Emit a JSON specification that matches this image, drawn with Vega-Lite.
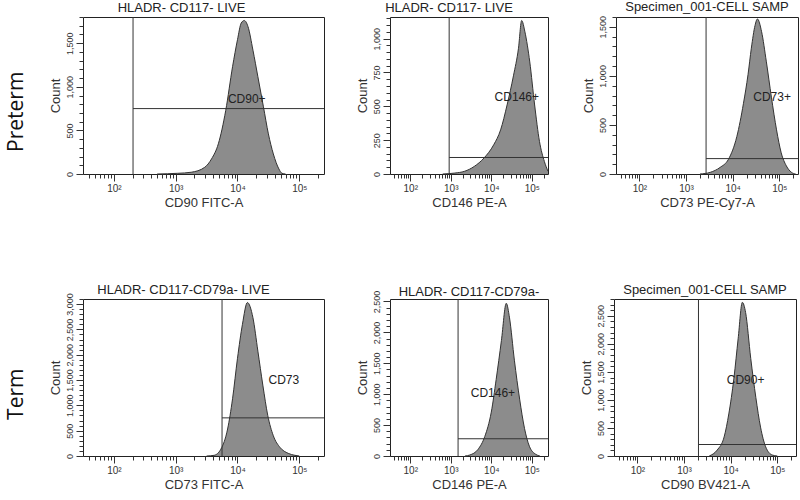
{
  "$schema": "https://vega.github.io/schema/vega-lite/v6.json",
  "padding": {"left": 5, "top": 0, "right": 0, "bottom": 0},
  "background": "white",
  "config": {
    "view": {"stroke": "#222", "strokeWidth": 1},
    "font": "Liberation Sans",
    "axis": {"domain": false, "grid": false, "labelFont": "Liberation Sans", "labelFontSize": 9, "labelColor": "#333", "tickColor": "#333", "titleFont": "Liberation Sans", "titleFontSize": 13, "titleFontWeight": "normal", "titleColor": "#333", "labelPadding": 2, "titlePadding": 3},
    "axisBottom": {"labelFontSize": 10},
    "title": {"font": "Liberation Sans", "fontSize": 13, "fontWeight": "normal", "color": "#222", "offset": 2}
  },
  "datasets": {
    "p1": [{"x":501,"count":0},{"x":1072,"count":8},{"x":1778,"count":20},{"x":2951,"count":77},{"x":3802,"count":173},{"x":4898,"count":346},{"x":6457,"count":730},{"x":8318,"count":1230},{"x":10000,"count":1540},{"x":11482,"count":1730},{"x":12882,"count":1760},{"x":14791,"count":1690},{"x":17783,"count":1420},{"x":21380,"count":1115},{"x":26303,"count":770},{"x":31623,"count":460},{"x":38019,"count":230},{"x":46774,"count":58},{"x":52481,"count":8},{"x":60000,"count":0}],
    "p2": [{"x":631,"count":0},{"x":1259,"count":7},{"x":2188,"count":20},{"x":3802,"count":56},{"x":6607,"count":118},{"x":11482,"count":216},{"x":16982,"count":326},{"x":24547,"count":510},{"x":35481,"count":730},{"x":46774,"count":926},{"x":56234,"count":1134},{"x":67608,"count":1050},{"x":89125,"count":828},{"x":117490,"count":510},{"x":154882,"count":240},{"x":204174,"count":93},{"x":251189,"count":20}],
    "p3": [{"x":1995,"count":0},{"x":3311,"count":17},{"x":5370,"count":67},{"x":8128,"count":150},{"x":12303,"count":383},{"x":16982,"count":716},{"x":21380,"count":1016},{"x":25119,"count":1282},{"x":30200,"count":1515},{"x":33884,"count":1580},{"x":41687,"count":1450},{"x":52481,"count":1150},{"x":67608,"count":783},{"x":87096,"count":450},{"x":109648,"count":216},{"x":141254,"count":83},{"x":181970,"count":17},{"x":223872,"count":0}],
    "p4": [{"x":3162,"count":0},{"x":4169,"count":13},{"x":5370,"count":133},{"x":6918,"count":533},{"x":8318,"count":1130},{"x":10000,"count":1930},{"x":12023,"count":2600},{"x":14454,"count":3030},{"x":17783,"count":2730},{"x":21380,"count":2070},{"x":25704,"count":1400},{"x":30903,"count":800},{"x":38019,"count":400},{"x":48978,"count":167},{"x":66069,"count":53},{"x":85114,"count":13},{"x":100000,"count":0}],
    "p5": [{"x":2239,"count":0},{"x":2951,"count":16},{"x":4677,"count":105},{"x":6918,"count":316},{"x":10000,"count":710},{"x":13183,"count":1236},{"x":17783,"count":1867},{"x":23442,"count":2470},{"x":28184,"count":2235},{"x":37154,"count":1550},{"x":50119,"count":920},{"x":66069,"count":447},{"x":87096,"count":158},{"x":125893,"count":26},{"x":158489,"count":0}],
    "p6": [{"x":3467,"count":0},{"x":5129,"count":105},{"x":7244,"count":340},{"x":9120,"count":750},{"x":11749,"count":1390},{"x":14454,"count":2090},{"x":17783,"count":2740},{"x":20893,"count":2560},{"x":26915,"count":1740},{"x":34674,"count":1040},{"x":43652,"count":515},{"x":56234,"count":164},{"x":77625,"count":18},{"x":100000,"count":0}],
    "g1": [{"gx":204,"gy":750,"xmax":251189,"lx":14125,"ly":865,"label":"CD90+"}],
    "g2": [{"gx":912,"gy":122,"xmax":251189,"lx":42658,"ly":568,"label":"CD146+"}],
    "g3": [{"gx":2692,"gy":157,"xmax":251189,"lx":70000,"ly":783,"label":"CD73+"}],
    "g4": [{"gx":5623,"gy":753,"xmax":251189,"lx":56234,"ly":1500,"label":"CD73"}],
    "g5": [{"gx":1514,"gy":279,"xmax":251189,"lx":10965,"ly":1025,"label":"CD146+"}],
    "g6": [{"gx":2042,"gy":205,"xmax":251189,"lx":20893,"ly":1363,"label":"CD90+"}]
  },
  "spacing": 73,
  "vconcat": [
    {
      "title": {"text": "Preterm", "orient": "left", "anchor": "middle", "font": "Open Sans", "fontSize": 21, "fontWeight": "normal", "color": "#111", "offset": 22, "dx": -7},
      "spacing": 30,
      "hconcat": [
        {
          "width": 241, "height": 157,
          "view": {"stroke": "#222", "strokeWidth": 1},
          "title": {"text": "HLADR- CD117- LIVE", "dx": -22},
          "layer": [
            {"data": {"name": "p1"}, "mark": {"type": "area", "color": "#8c8c8c", "interpolate": "monotone"},
             "encoding": {
               "x": {"field": "x", "type": "quantitative", "scale": {"type": "log", "domain": [31.6, 251189], "nice": false}, "axis": {"orient": "bottom", "values": [100, 1000, 10000, 100000], "title": "CD90 FITC-A", "tickSize": 7, "labelExpr": "datum.value == 100 ? '10²' : datum.value == 1000 ? '10³' : datum.value == 10000 ? '10⁴' : '10⁵'"}},
               "y": {"field": "count", "type": "quantitative", "scale": {"domain": [0, 1800], "nice": false}, "axis": {"orient": "left", "values": [0, 500, 1000, 1500], "format": ",.0f", "title": "Count", "tickSize": 7, "labelAngle": -90}}}},
            {"data": {"name": "p1"}, "mark": {"type": "line", "color": "#333", "strokeWidth": 1, "interpolate": "monotone"},
             "encoding": {
               "x": {"field": "x", "type": "quantitative", "axis": {"orient": "bottom", "values": [40,50,60,70,80,90,200,300,400,500,600,700,800,900,2000,3000,4000,5000,6000,7000,8000,9000,20000,30000,40000,50000,60000,70000,80000,90000,200000], "labels": false, "title": null, "tickSize": 4}},
               "y": {"field": "count", "type": "quantitative", "axis": {"orient": "left", "values": [0,100,200,300,400,500,600,700,800,900,1000,1100,1200,1300,1400,1500,1600,1700,1800], "labels": false, "title": null, "tickSize": 4}}}},
            {"data": {"name": "g1"}, "mark": {"type": "rule", "color": "#333"}, "encoding": {"x": {"field": "gx", "type": "quantitative", "axis": null}}},
            {"data": {"name": "g1"}, "mark": {"type": "rule", "color": "#333"}, "encoding": {"x": {"field": "gx", "type": "quantitative", "axis": null}, "x2": {"field": "xmax"}, "y": {"field": "gy", "type": "quantitative", "axis": null}}},
            {"data": {"name": "g1"}, "mark": {"type": "text", "fontSize": 12, "color": "#222", "baseline": "middle"}, "encoding": {"x": {"field": "lx", "type": "quantitative", "axis": null}, "y": {"field": "ly", "type": "quantitative", "axis": null}, "text": {"field": "label"}}}
          ],
          "resolve": {"axis": {"x": "independent", "y": "independent"}}
        },
        {
          "width": 158, "height": 157,
          "view": {"stroke": "#222", "strokeWidth": 1},
          "title": {"text": "HLADR- CD117- LIVE", "dx": -20},
          "layer": [
            {"data": {"name": "p2"}, "mark": {"type": "area", "color": "#8c8c8c", "interpolate": "monotone"},
             "encoding": {
               "x": {"field": "x", "type": "quantitative", "scale": {"type": "log", "domain": [31.6, 251189], "nice": false}, "axis": {"orient": "bottom", "values": [100, 1000, 10000, 100000], "title": "CD146 PE-A", "tickSize": 7, "labelExpr": "datum.value == 100 ? '10²' : datum.value == 1000 ? '10³' : datum.value == 10000 ? '10⁴' : '10⁵'"}},
               "y": {"field": "count", "type": "quantitative", "scale": {"domain": [0, 1160], "nice": false}, "axis": {"orient": "left", "values": [0, 250, 500, 750, 1000], "format": ",.0f", "title": "Count", "tickSize": 7, "labelAngle": -90}}}},
            {"data": {"name": "p2"}, "mark": {"type": "line", "color": "#333", "strokeWidth": 1, "interpolate": "monotone"},
             "encoding": {
               "x": {"field": "x", "type": "quantitative", "axis": {"orient": "bottom", "values": [40,50,60,70,80,90,200,300,400,500,600,700,800,900,2000,3000,4000,5000,6000,7000,8000,9000,20000,30000,40000,50000,60000,70000,80000,90000,200000], "labels": false, "title": null, "tickSize": 4}},
               "y": {"field": "count", "type": "quantitative", "axis": {"orient": "left", "values": [0,50,100,150,200,250,300,350,400,450,500,550,600,650,700,750,800,850,900,950,1000,1050,1100,1150], "labels": false, "title": null, "tickSize": 4}}}},
            {"data": {"name": "g2"}, "mark": {"type": "rule", "color": "#333"}, "encoding": {"x": {"field": "gx", "type": "quantitative", "axis": null}}},
            {"data": {"name": "g2"}, "mark": {"type": "rule", "color": "#333"}, "encoding": {"x": {"field": "gx", "type": "quantitative", "axis": null}, "x2": {"field": "xmax"}, "y": {"field": "gy", "type": "quantitative", "axis": null}}},
            {"data": {"name": "g2"}, "mark": {"type": "text", "fontSize": 12, "color": "#222", "baseline": "middle"}, "encoding": {"x": {"field": "lx", "type": "quantitative", "axis": null}, "y": {"field": "ly", "type": "quantitative", "axis": null}, "text": {"field": "label"}}}
          ],
          "resolve": {"axis": {"x": "independent", "y": "independent"}}
        },
        {
          "width": 182, "height": 157,
          "view": {"stroke": "#222", "strokeWidth": 1},
          "title": {"text": "Specimen_001-CELL SAMP"},
          "layer": [
            {"data": {"name": "p3"}, "mark": {"type": "area", "color": "#8c8c8c", "interpolate": "monotone"},
             "encoding": {
               "x": {"field": "x", "type": "quantitative", "scale": {"type": "log", "domain": [31.6, 251189], "nice": false}, "axis": {"orient": "bottom", "values": [100, 1000, 10000, 100000], "title": "CD73 PE-Cy7-A", "tickSize": 7, "labelExpr": "datum.value == 100 ? '10²' : datum.value == 1000 ? '10³' : datum.value == 10000 ? '10⁴' : '10⁵'"}},
               "y": {"field": "count", "type": "quantitative", "scale": {"domain": [0, 1600], "nice": false}, "axis": {"orient": "left", "values": [0, 500, 1000, 1500], "format": ",.0f", "title": "Count", "tickSize": 7, "labelAngle": -90}}}},
            {"data": {"name": "p3"}, "mark": {"type": "line", "color": "#333", "strokeWidth": 1, "interpolate": "monotone"},
             "encoding": {
               "x": {"field": "x", "type": "quantitative", "axis": {"orient": "bottom", "values": [40,50,60,70,80,90,200,300,400,500,600,700,800,900,2000,3000,4000,5000,6000,7000,8000,9000,20000,30000,40000,50000,60000,70000,80000,90000,200000], "labels": false, "title": null, "tickSize": 4}},
               "y": {"field": "count", "type": "quantitative", "axis": {"orient": "left", "values": [0,100,200,300,400,500,600,700,800,900,1000,1100,1200,1300,1400,1500,1600], "labels": false, "title": null, "tickSize": 4}}}},
            {"data": {"name": "g3"}, "mark": {"type": "rule", "color": "#333"}, "encoding": {"x": {"field": "gx", "type": "quantitative", "axis": null}}},
            {"data": {"name": "g3"}, "mark": {"type": "rule", "color": "#333"}, "encoding": {"x": {"field": "gx", "type": "quantitative", "axis": null}, "x2": {"field": "xmax"}, "y": {"field": "gy", "type": "quantitative", "axis": null}}},
            {"data": {"name": "g3"}, "mark": {"type": "text", "fontSize": 12, "color": "#222", "baseline": "middle"}, "encoding": {"x": {"field": "lx", "type": "quantitative", "axis": null}, "y": {"field": "ly", "type": "quantitative", "axis": null}, "text": {"field": "label"}}}
          ],
          "resolve": {"axis": {"x": "independent", "y": "independent"}}
        }
      ]
    },
    {
      "title": {"text": "Term", "orient": "left", "anchor": "middle", "font": "Open Sans", "fontSize": 21, "fontWeight": "normal", "color": "#111", "offset": 22, "dx": -7},
      "spacing": 30,
      "hconcat": [
        {
          "width": 241, "height": 157,
          "view": {"stroke": "#222", "strokeWidth": 1},
          "title": {"text": "HLADR- CD117-CD79a- LIVE", "dx": -20, "offset": -4},
          "layer": [
            {"data": {"name": "p4"}, "mark": {"type": "area", "color": "#8c8c8c", "interpolate": "monotone"},
             "encoding": {
               "x": {"field": "x", "type": "quantitative", "scale": {"type": "log", "domain": [31.6, 251189], "nice": false}, "axis": {"orient": "bottom", "values": [100, 1000, 10000, 100000], "title": "CD73 FITC-A", "tickSize": 7, "labelExpr": "datum.value == 100 ? '10²' : datum.value == 1000 ? '10³' : datum.value == 10000 ? '10⁴' : '10⁵'"}},
               "y": {"field": "count", "type": "quantitative", "scale": {"domain": [0, 3100], "nice": false}, "axis": {"orient": "left", "values": [0, 500, 1000, 1500, 2000, 2500, 3000], "format": ",.0f", "title": "Count", "tickSize": 7, "labelAngle": -90, "labelOverlap": false}}}},
            {"data": {"name": "p4"}, "mark": {"type": "line", "color": "#333", "strokeWidth": 1, "interpolate": "monotone"},
             "encoding": {
               "x": {"field": "x", "type": "quantitative", "axis": {"orient": "bottom", "values": [40,50,60,70,80,90,200,300,400,500,600,700,800,900,2000,3000,4000,5000,6000,7000,8000,9000,20000,30000,40000,50000,60000,70000,80000,90000,200000], "labels": false, "title": null, "tickSize": 4}},
               "y": {"field": "count", "type": "quantitative", "axis": {"orient": "left", "values": [0,100,200,300,400,500,600,700,800,900,1000,1100,1200,1300,1400,1500,1600,1700,1800,1900,2000,2100,2200,2300,2400,2500,2600,2700,2800,2900,3000,3100], "labels": false, "title": null, "tickSize": 4}}}},
            {"data": {"name": "g4"}, "mark": {"type": "rule", "color": "#333"}, "encoding": {"x": {"field": "gx", "type": "quantitative", "axis": null}}},
            {"data": {"name": "g4"}, "mark": {"type": "rule", "color": "#333"}, "encoding": {"x": {"field": "gx", "type": "quantitative", "axis": null}, "x2": {"field": "xmax"}, "y": {"field": "gy", "type": "quantitative", "axis": null}}},
            {"data": {"name": "g4"}, "mark": {"type": "text", "fontSize": 12, "color": "#222", "baseline": "middle"}, "encoding": {"x": {"field": "lx", "type": "quantitative", "axis": null}, "y": {"field": "ly", "type": "quantitative", "axis": null}, "text": {"field": "label"}}}
          ],
          "resolve": {"axis": {"x": "independent", "y": "independent"}}
        },
        {
          "width": 158, "height": 157,
          "view": {"stroke": "#222", "strokeWidth": 1},
          "title": {"text": "HLADR- CD117-CD79a-", "offset": -9},
          "layer": [
            {"data": {"name": "p5"}, "mark": {"type": "area", "color": "#8c8c8c", "interpolate": "monotone"},
             "encoding": {
               "x": {"field": "x", "type": "quantitative", "scale": {"type": "log", "domain": [31.6, 251189], "nice": false}, "axis": {"orient": "bottom", "values": [100, 1000, 10000, 100000], "title": "CD146 PE-A", "tickSize": 7, "labelExpr": "datum.value == 100 ? '10²' : datum.value == 1000 ? '10³' : datum.value == 10000 ? '10⁴' : '10⁵'"}},
               "y": {"field": "count", "type": "quantitative", "scale": {"domain": [0, 2540], "nice": false}, "axis": {"orient": "left", "values": [0, 500, 1000, 1500, 2000, 2500], "format": ",.0f", "title": "Count", "tickSize": 7, "labelAngle": -90, "labelOverlap": false}}}},
            {"data": {"name": "p5"}, "mark": {"type": "line", "color": "#333", "strokeWidth": 1, "interpolate": "monotone"},
             "encoding": {
               "x": {"field": "x", "type": "quantitative", "axis": {"orient": "bottom", "values": [40,50,60,70,80,90,200,300,400,500,600,700,800,900,2000,3000,4000,5000,6000,7000,8000,9000,20000,30000,40000,50000,60000,70000,80000,90000,200000], "labels": false, "title": null, "tickSize": 4}},
               "y": {"field": "count", "type": "quantitative", "axis": {"orient": "left", "values": [0,100,200,300,400,500,600,700,800,900,1000,1100,1200,1300,1400,1500,1600,1700,1800,1900,2000,2100,2200,2300,2400,2500], "labels": false, "title": null, "tickSize": 4}}}},
            {"data": {"name": "g5"}, "mark": {"type": "rule", "color": "#333"}, "encoding": {"x": {"field": "gx", "type": "quantitative", "axis": null}}},
            {"data": {"name": "g5"}, "mark": {"type": "rule", "color": "#333"}, "encoding": {"x": {"field": "gx", "type": "quantitative", "axis": null}, "x2": {"field": "xmax"}, "y": {"field": "gy", "type": "quantitative", "axis": null}}},
            {"data": {"name": "g5"}, "mark": {"type": "text", "fontSize": 12, "color": "#222", "baseline": "middle"}, "encoding": {"x": {"field": "lx", "type": "quantitative", "axis": null}, "y": {"field": "ly", "type": "quantitative", "axis": null}, "text": {"field": "label"}}}
          ],
          "resolve": {"axis": {"x": "independent", "y": "independent"}}
        },
        {
          "width": 182, "height": 157,
          "view": {"stroke": "#222", "strokeWidth": 1},
          "title": {"text": "Specimen_001-CELL SAMP"},
          "layer": [
            {"data": {"name": "p6"}, "mark": {"type": "area", "color": "#8c8c8c", "interpolate": "monotone"},
             "encoding": {
               "x": {"field": "x", "type": "quantitative", "scale": {"type": "log", "domain": [31.6, 251189], "nice": false}, "axis": {"orient": "bottom", "values": [100, 1000, 10000, 100000], "title": "CD90 BV421-A", "tickSize": 7, "labelExpr": "datum.value == 100 ? '10²' : datum.value == 1000 ? '10³' : datum.value == 10000 ? '10⁴' : '10⁵'"}},
               "y": {"field": "count", "type": "quantitative", "scale": {"domain": [0, 2800], "nice": false}, "axis": {"orient": "left", "values": [0, 500, 1000, 1500, 2000, 2500], "format": ",.0f", "title": "Count", "tickSize": 7, "labelAngle": -90, "labelOverlap": false}}}},
            {"data": {"name": "p6"}, "mark": {"type": "line", "color": "#333", "strokeWidth": 1, "interpolate": "monotone"},
             "encoding": {
               "x": {"field": "x", "type": "quantitative", "axis": {"orient": "bottom", "values": [40,50,60,70,80,90,200,300,400,500,600,700,800,900,2000,3000,4000,5000,6000,7000,8000,9000,20000,30000,40000,50000,60000,70000,80000,90000,200000], "labels": false, "title": null, "tickSize": 4}},
               "y": {"field": "count", "type": "quantitative", "axis": {"orient": "left", "values": [0,100,200,300,400,500,600,700,800,900,1000,1100,1200,1300,1400,1500,1600,1700,1800,1900,2000,2100,2200,2300,2400,2500,2600,2700,2800], "labels": false, "title": null, "tickSize": 4}}}},
            {"data": {"name": "g6"}, "mark": {"type": "rule", "color": "#333"}, "encoding": {"x": {"field": "gx", "type": "quantitative", "axis": null}}},
            {"data": {"name": "g6"}, "mark": {"type": "rule", "color": "#333"}, "encoding": {"x": {"field": "gx", "type": "quantitative", "axis": null}, "x2": {"field": "xmax"}, "y": {"field": "gy", "type": "quantitative", "axis": null}}},
            {"data": {"name": "g6"}, "mark": {"type": "text", "fontSize": 12, "color": "#222", "baseline": "middle"}, "encoding": {"x": {"field": "lx", "type": "quantitative", "axis": null}, "y": {"field": "ly", "type": "quantitative", "axis": null}, "text": {"field": "label"}}}
          ],
          "resolve": {"axis": {"x": "independent", "y": "independent"}}
        }
      ]
    }
  ]
}
